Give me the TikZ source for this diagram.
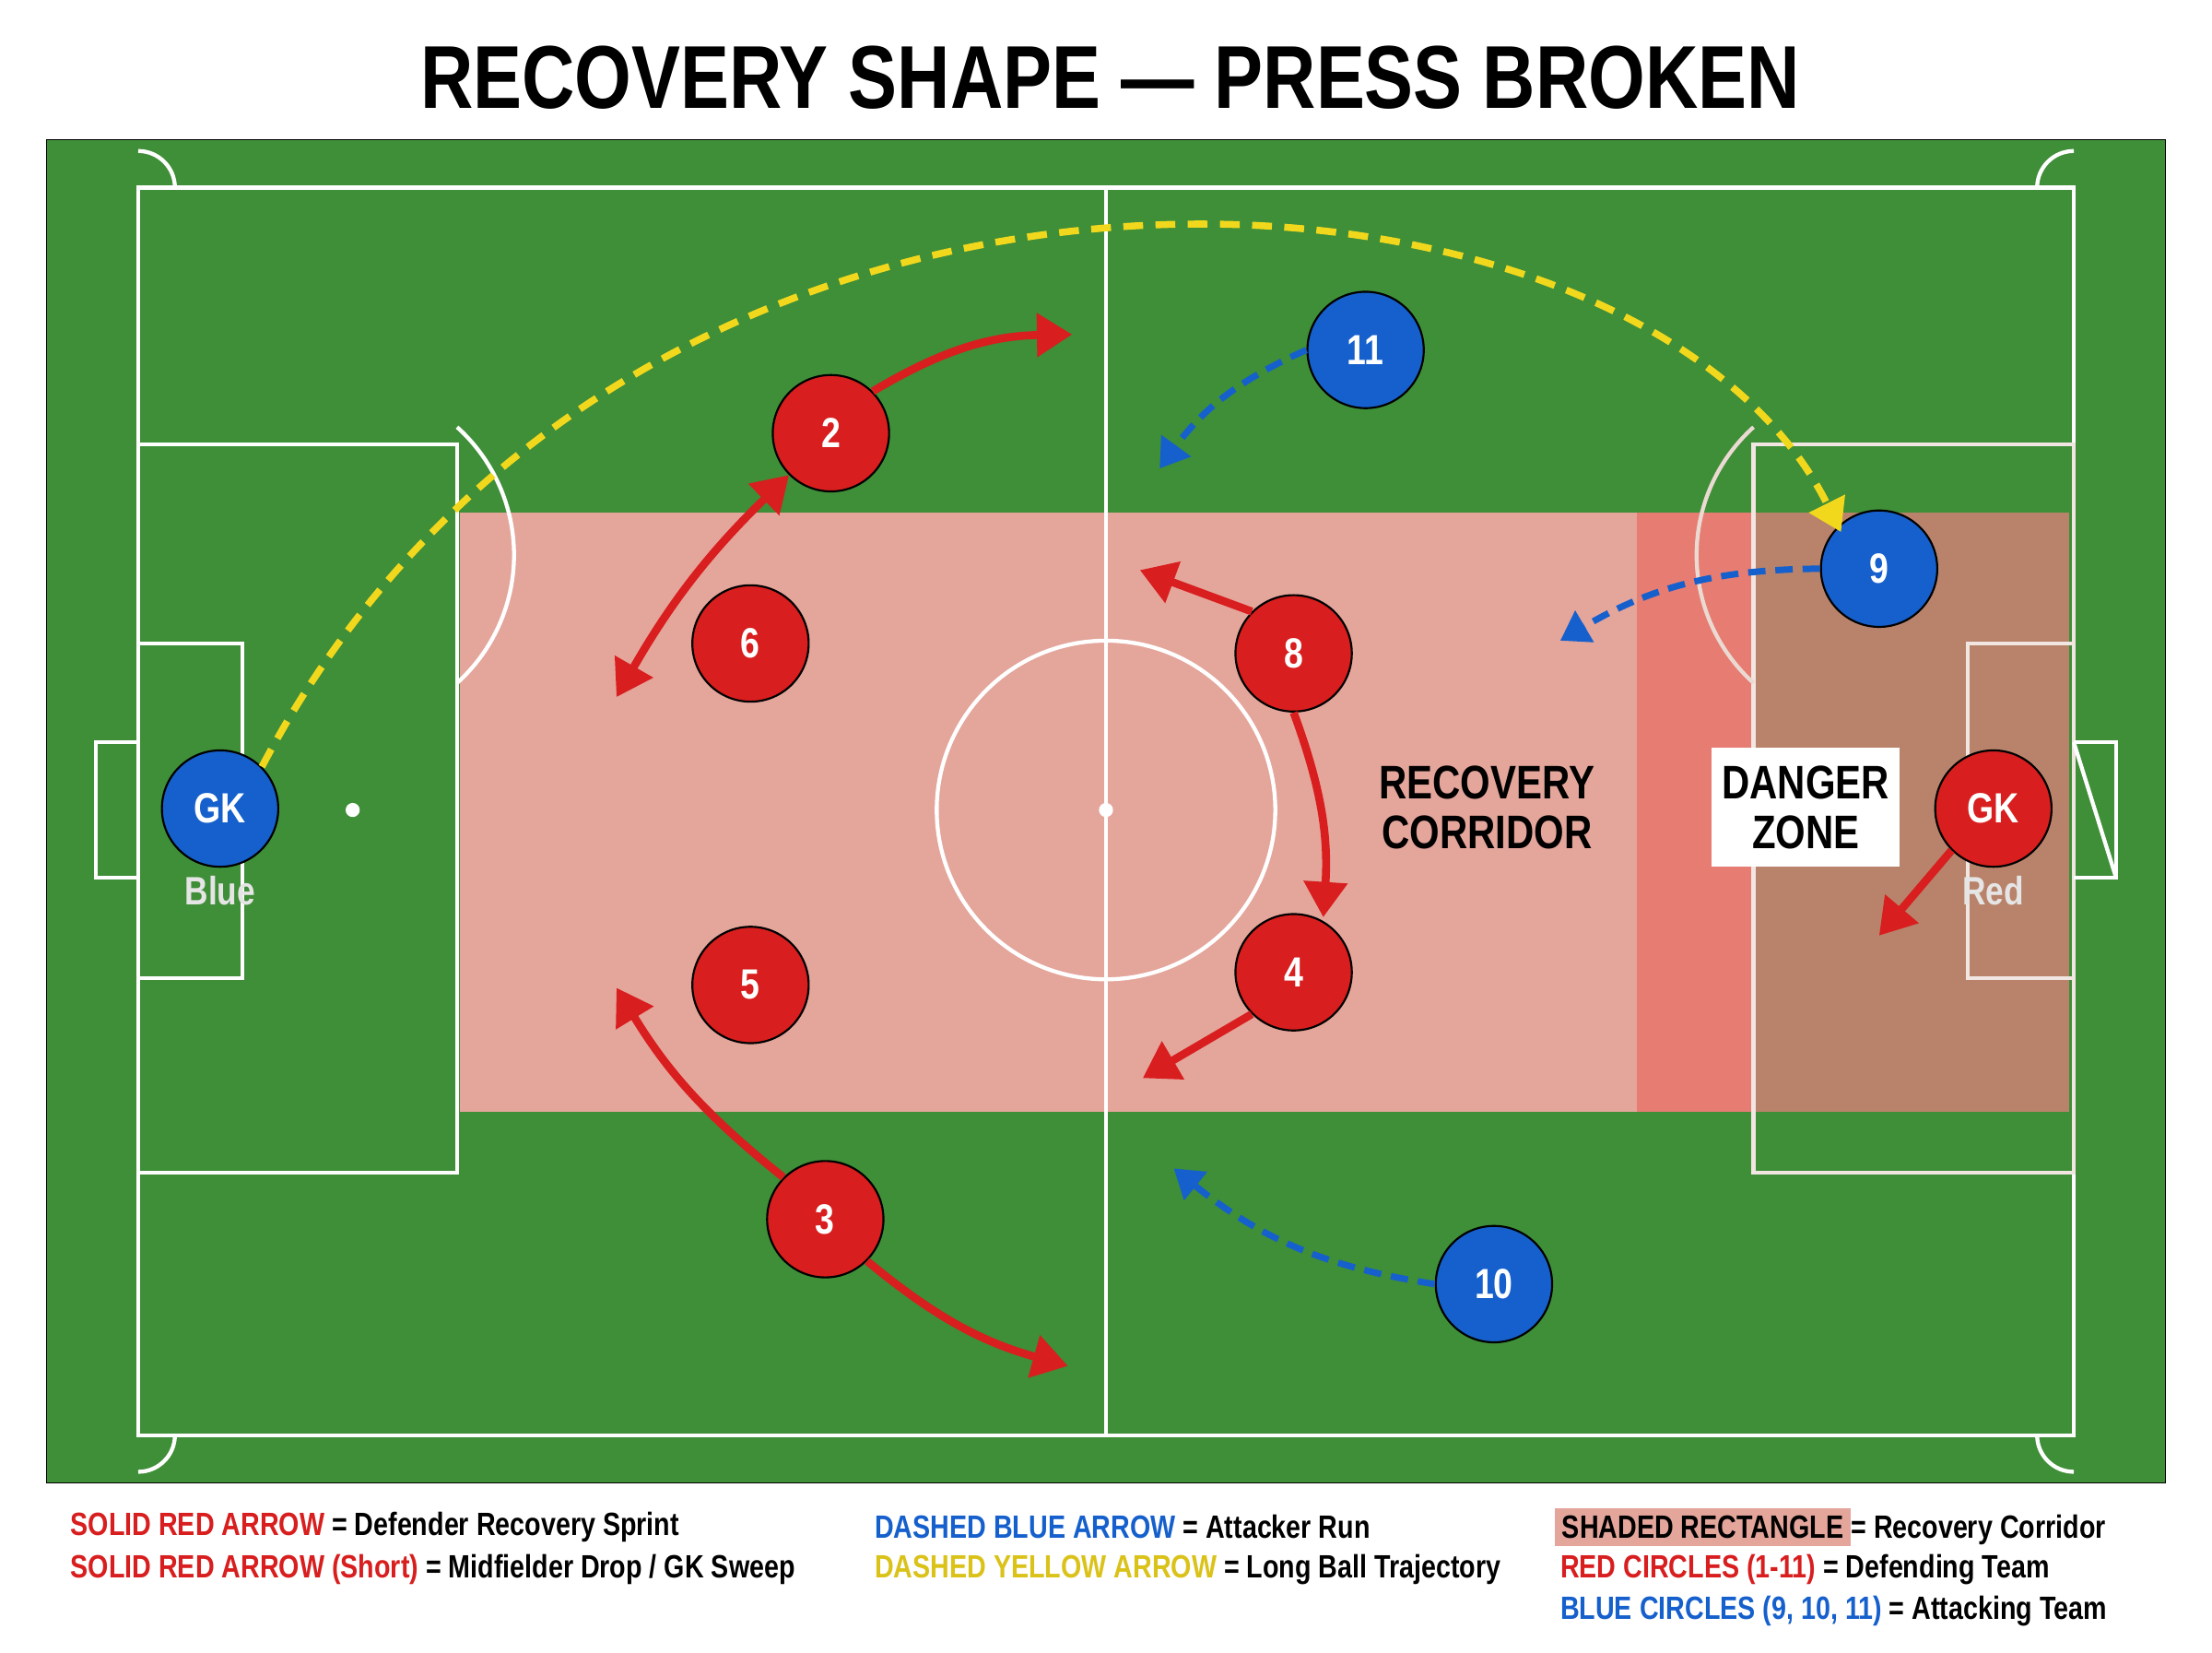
\documentclass[tikz,border=0pt]{standalone}
\usepackage{fontspec}
\setmainfont{Liberation Sans}[FakeStretch=0.82]
\usetikzlibrary{positioning, arrows.meta, calc}
\definecolor{rasen}{HTML}{3F8E38}
\definecolor{rot}{HTML}{D81E1E}
\definecolor{blau}{HTML}{1560CC}
\definecolor{gelb}{HTML}{F2D81C}
\definecolor{korridor}{HTML}{E4A59B}
\definecolor{gefahr}{HTML}{E77C72}
\definecolor{braun}{HTML}{B8836A}
\tikzset{linie/.style={white, line width=1.6pt},
	rotspieler/.style={circle, draw=black, thick, fill=rot, text=white, minimum size=16.5mm, inner sep=0, font=\fontsize{17}{17}\selectfont\bfseries},
	blauspieler/.style={rotspieler, fill=blau},
	sprint/.style={-{Triangle[length=5mm,width=6mm]}, rot, line width=3.2pt},
	lauf/.style={-{Triangle[length=4mm,width=5mm]}, blau, line width=2.6pt, dash pattern=on 7pt off 4pt},
	ball/.style={-{Triangle[length=4.5mm,width=5.5mm]}, gelb, line width=2.8pt, dash pattern=on 8pt off 5pt},
	legende/.style={anchor=west, inner sep=1pt, font=\fontsize{13}{13}\selectfont\bfseries},
	feldtext/.style={align=center, font=\fontsize{19}{20}\selectfont\bfseries} }

\begin{document}
\begin{tikzpicture}[x=0.02cm, y=-0.02cm]
	\useasboundingbox (0,0) rectangle (1568,1171);
	\fill[white] (0,0) rectangle (1568,1171);
	\node[font=\fontsize{36}{36}\selectfont\bfseries] (titel) at (787,55) {RECOVERY SHAPE — PRESS BROKEN};
	% Spielfeld
	\fill[rasen] (33,99) rectangle (1535,1051);
	\draw (33,99) rectangle (1535,1051);
	\fill[korridor] (326,363) rectangle (1160,788);
	\fill[gefahr] (1160,363) rectangle (1243,788);
	\fill[braun] (1243,363) rectangle (1467,788);
	\draw[linie] (98,133) rectangle (1470,1017);
	\draw[linie] (784,133) -- (784,1017);
	\draw[linie] (784,574) circle (120);
	\fill[white] (784,574) circle (5);
	\draw[linie] (98,315) rectangle (324,831);
	\draw[linie] (98,456) rectangle (172,693);
	\draw[linie] (98,526) -- (68,526) -- (68,622) -- (98,622);
	\fill[white] (250,574) circle (5);
	\draw[linie] (324,484) arc[start angle=48, end angle=-48, radius=122];
	\draw[linie, white!80!braun] (1243,315) rectangle (1470,831);
	\draw[linie, white!80!braun] (1395,456) rectangle (1470,693);
	\draw[linie] (1470,526) -- (1500,622) ++(0,0);
	\draw[linie] (1470,526) -- (1500,526) -- (1500,622) -- (1470,622);
	\draw[linie, white!70!braun] (1243,484) arc[start angle=132, end angle=228, radius=122];
	\draw[linie] (124,133) arc[start angle=0, end angle=-90, radius=26];
	\draw[linie] (1444,133) arc[start angle=180, end angle=270, radius=26];
	\draw[linie] (124,1017) arc[start angle=0, end angle=90, radius=26];
	\draw[linie] (1444,1017) arc[start angle=180, end angle=90, radius=26];
	\node[feldtext] (korr) at (1054,572) {RECOVERY\\CORRIDOR};
	\node[feldtext, fill=white, minimum width=133*0.02cm, minimum height=84*0.02cm] (gefahr) at (1280,572) {DANGER\\ZONE};
	% Spieler
	\node[rotspieler] (r2) at (589,307) {2};
	\node[rotspieler] (r6) at (532,456) {6};
	\node[rotspieler] (r8) at (917,463) {8};
	\node[rotspieler] (r4) at (917,689) {4};
	\node[rotspieler] (r5) at (532,698) {5};
	\node[rotspieler] (r3) at (585,864) {3};
	\node[rotspieler] (rgk) at (1413,573) {GK};
	\node[blauspieler] (b11) at (968,248) {11};
	\node[blauspieler] (b9) at (1332,403) {9};
	\node[blauspieler] (b10) at (1059,910) {10};
	\node[blauspieler] (bgk) at (156,573) {GK};
	\node[feldtext, text=white!90!black, below=0pt of bgk, font=\fontsize{16}{16}\selectfont\bfseries] (blue) {Blue};
	\node[feldtext, text=white!90!black, below=0pt of rgk, font=\fontsize{16}{16}\selectfont\bfseries] (red) {Red};
	% Laufwege
	\coordinate (z2) at (760,237);
	\coordinate (z6) at (437,494);
	\coordinate (z3a) at (437,700);
	\coordinate (z3b) at (757,968);
	\coordinate (z8a) at (808,404);
	\coordinate (z8b) at (938,650);
	\coordinate (z4) at (810,764);
	\coordinate (zgk) at (1332,663);
	\coordinate (z11) at (822,332);
	\coordinate (z9) at (1106,454);
	\coordinate (z10) at (832,828);
	\coordinate (zball) at (1305,377);
	\draw[ball] (bgk.north east) .. controls (450,40) and (1162,89) .. (zball);
	\draw[sprint] (r2.north east) to[bend left=15] (z2);
	\draw[sprint, {Triangle[length=5mm,width=6mm]}-{Triangle[length=5mm,width=6mm]}] (r2.south west) to[bend right=8] (z6);
	\draw[sprint] (r3.north west) to[bend left=10] (z3a);
	\draw[sprint] (r3.south east) to[bend right=12] (z3b);
	\draw[sprint] (r8.north west) -- (z8a);
	\draw[sprint] (r8.south) to[bend left=12] (z8b);
	\draw[sprint] (r4.south west) -- (z4);
	\draw[sprint] (rgk.south west) -- (zgk);
	\draw[lauf] (b11.west) to[bend right=15] (z11);
	\draw[lauf] (b9.west) to[bend right=15] (z9);
	\draw[lauf] (b10.west) to[bend left=15] (z10);
	% Legende
	\node[legende] (l1) at (48,1082) {\textcolor{rot}{SOLID RED ARROW} = Defender Recovery Sprint};
	\node[legende] (l2) at (48,1112) {\textcolor{rot}{SOLID RED ARROW (Short)} = Midfielder Drop / GK Sweep};
	\node[legende] (l3) at (618,1082) {\textcolor{blau}{DASHED BLUE ARROW} = Attacker Run};
	\node[legende] (l4) at (618,1112) {\textcolor{gelb!90!black}{DASHED YELLOW ARROW} = Long Ball Trajectory};
	\node[legende] (l5) at (1100,1082) {\colorbox{korridor}{SHADED RECTANGLE}= Recovery Corridor};
	\node[legende] (l6) at (1104,1112) {\textcolor{rot}{RED CIRCLES (1-11)} = Defending Team};
	\node[legende] (l7) at (1104,1142) {\textcolor{blau}{BLUE CIRCLES (9, 10, 11)} = Attacking Team};
\end{tikzpicture}
\end{document}
